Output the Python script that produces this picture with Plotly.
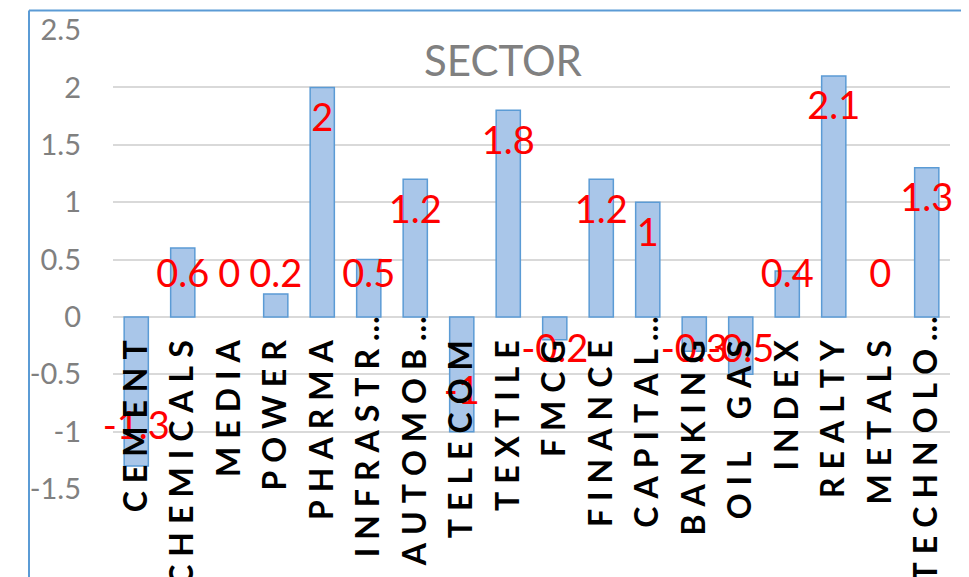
import plotly.graph_objects as go

categories = ["CEMENT", "CHEMICALS", "MEDIA", "POWER", "PHARMA", "INFRASTR…",
              "AUTOMOB…", "TELECOM", "TEXTILE", "FMCG", "FINANCE", "CAPITAL…",
              "BANKING", "OIL GAS", "INDEX", "REALTY", "METALS", "TECHNOLO…"]
values = [-1.3, 0.6, 0, 0.2, 2, 0.5, 1.2, -1, 1.8, -0.2, 1.2, 1, -0.3, -0.5,
          0.4, 2.1, 0, 1.3]
y_tickvals = [-1.5, -1, -0.5, 0, 0.5, 1, 1.5, 2, 2.5]
y_ticktext = ["-1.5", "-1", "-0.5", "0", "0.5", "1", "1.5", "2", "2.5"]
title_text = "SECTOR"

FONT = "Lato"
W, H = 969, 577
ML, MR, MT, MB = 105, 27, 22, 96
YMIN, YMAX = -1.5, 2.5
plot_h = H - MT - MB
px_per_unit = plot_h / (YMAX - YMIN)


def spaced(name):
    sp = "\u2005"
    if name.endswith("…"):
        core = name[:-1]
        return sp.join(c if c != " " else "\u2002" for c in core) + sp + "…"
    return sp.join(c if c != " " else "\u2002" for c in name) + "\u2003"


tick_labels = [spaced(c) for c in categories]


def label_pos(v):
    # Excel "inside end" style label centre, kept clear of the axis
    if v >= 0:
        y = max(v - 40 / px_per_unit, 33 / px_per_unit)
    else:
        y = min(v + 31 / px_per_unit, -42 / px_per_unit)
    return y + 6 / px_per_unit


label_y = [label_pos(v) for v in values]
label_text = [("%g" % v) for v in values]
bar_line_w = [1.5 if v != 0 else 0 for v in values]

fig = go.Figure()
fig.add_trace(go.Bar(
    x=categories, y=values,
    marker=dict(color="#A9C6E9", line=dict(color="#5B9BD5", width=bar_line_w)),
    width=0.52,
    hoverinfo="skip",
))
fig.add_trace(go.Scatter(
    x=categories, y=label_y, mode="text", text=label_text,
    textposition="middle center",
    textfont=dict(family=FONT, size=38, color="#FF0000"),
    cliponaxis=False, hoverinfo="skip",
))

zero_frac = (0 - YMIN) / (YMAX - YMIN) + 8 / plot_h

fig.update_layout(
    width=W, height=H,
    margin=dict(l=ML, r=MR, t=MT, b=MB, pad=0),
    paper_bgcolor="white", plot_bgcolor="white",
    showlegend=False,
    title=dict(text=title_text, x=495 / W, xref="container", xanchor="center",
               y=1 - 53 / H, yref="container", yanchor="middle",
               font=dict(family=FONT, size=42, color="#808080")),
    xaxis=dict(type="category", categoryorder="array", categoryarray=categories,
               tickmode="array", tickvals=categories, ticktext=tick_labels,
               anchor="free", position=zero_frac, showline=False, ticks="",
               tickangle=-90, showgrid=False, zeroline=False,
               tickfont=dict(family=FONT, size=32, color="#000000", weight="bold"),
               automargin=False, range=[-0.5, len(categories) - 0.5]),
    yaxis=dict(range=[YMIN, YMAX], tickmode="array", tickvals=y_tickvals,
               ticktext=y_ticktext, showgrid=True, gridcolor="#D9D9D9",
               gridwidth=2, zeroline=True, zerolinecolor="#D9D9D9",
               zerolinewidth=2, showline=False, ticks="",
               ticklabelstandoff=31,
               tickfont=dict(family=FONT, size=29, color="#808080"),
               automargin=False),
)

# chart-area border (top and left edges visible)
bx = (21 - ML) / (W - ML - MR)
by = (H - MB - 2.5) / plot_h
fig.add_shape(type="line", xref="paper", yref="paper",
              x0=bx, x1=1.2, y0=by, y1=by,
              line=dict(color="#5B9BD5", width=2))
fig.add_shape(type="line", xref="paper", yref="paper",
              x0=bx, x1=bx, y0=-0.5, y1=by,
              line=dict(color="#5B9BD5", width=2))

fig.write_html("out.html")
